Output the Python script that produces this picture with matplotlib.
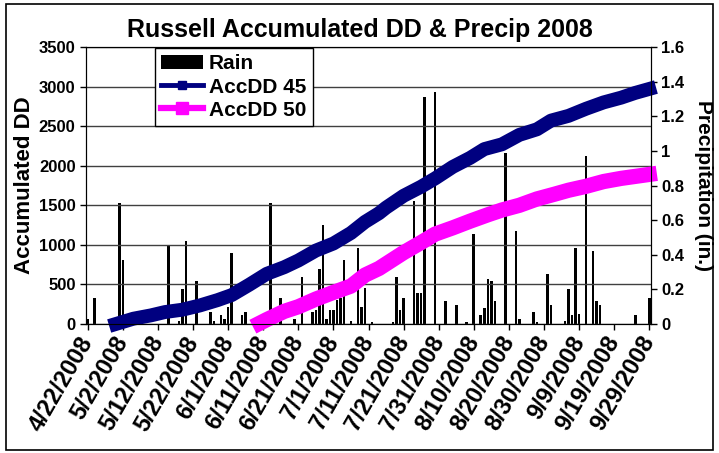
import numpy as np
import matplotlib
matplotlib.use('Agg')
from matplotlib import pyplot as plt
from matplotlib.lines import Line2D
from matplotlib.patches import Patch, Rectangle

plt.rcParams['font.family'] = ['Liberation Sans', 'DejaVu Sans']
plt.rcParams['font.weight'] = 'bold'

# days counted from 4/22/2008
tick_day = list(range(0, 161, 10))
tick_label = ['4/22/2008', '5/2/2008', '5/12/2008', '5/22/2008', '6/1/2008',
              '6/11/2008', '6/21/2008', '7/1/2008', '7/11/2008', '7/21/2008',
              '7/31/2008', '8/10/2008', '8/20/2008', '8/30/2008', '9/9/2008',
              '9/19/2008', '9/29/2008']

# daily rain (in.)
rain_day = [0, 2, 9, 10, 11, 23, 26, 27, 28, 31, 35, 36, 38, 39, 40, 41, 44, 45,
            52, 55, 59, 61, 64, 65, 66, 67, 68, 69, 70, 71, 72, 73, 75, 77, 78, 79,
            81, 87, 88, 89, 90, 93, 94, 95, 96, 99, 102, 105, 108, 110, 112, 113,
            114, 115, 116, 119, 122, 123, 127, 128, 131, 132, 136, 137, 138, 139,
            140, 142, 144, 145, 146, 156, 160]
rain_in = [0.03, 0.15, 0.70, 0.37, 0.05, 0.45, 0.02, 0.20, 0.48, 0.25, 0.07, 0.02,
           0.05, 0.03, 0.10, 0.41, 0.05, 0.07, 0.70, 0.15, 0.03, 0.27, 0.07, 0.08,
           0.32, 0.57, 0.03, 0.08, 0.08, 0.14, 0.15, 0.37, 0.02, 0.44, 0.10, 0.21,
           0.01, 0.01, 0.27, 0.08, 0.15, 0.71, 0.18, 0.18, 1.31, 1.34, 0.13, 0.11,
           0.01, 0.52, 0.05, 0.09, 0.26, 0.25, 0.13, 0.99, 0.54, 0.03, 0.07, 0.01,
           0.29, 0.11, 0.02, 0.20, 0.05, 0.44, 0.06, 0.97, 0.42, 0.13, 0.11, 0.05,
           0.15]

# accumulated degree days
dd45_day = [8, 13, 18, 22, 27, 32, 37, 41, 46, 51, 56, 60, 65, 70, 75, 79, 83, 85,
            90, 95, 99, 104, 109, 113, 118, 123, 128, 132, 137, 142, 147, 152, 156, 160]
dd45 = [0, 67, 109, 151, 181, 235, 302, 365, 496, 634, 718, 802, 928, 1017, 1150,
        1290, 1400, 1470, 1620, 1735, 1840, 1985, 2100, 2210, 2270, 2390, 2460,
        2570, 2630, 2720, 2800, 2860, 2920, 2970]

dd50_day = [49, 51, 56, 60, 65, 70, 75, 79, 83, 90, 95, 99, 104, 109, 114, 118,
            123, 128, 133, 137, 142, 147, 152, 156, 160]
dd50 = [10, 55, 160, 218, 315, 399, 479, 618, 702, 902, 1030, 1136, 1215, 1300,
        1380, 1440, 1500, 1580, 1640, 1690, 1740, 1800, 1840, 1865, 1890]

navy = '#000080'
pink = '#ff00ff'

fig = plt.figure(figsize=(7.19, 4.53), dpi=100)
ax = fig.add_axes([86 / 719, 1 - 324 / 453, 565 / 719, 277 / 453])
ax2 = ax.twinx()
ax.set_zorder(ax2.get_zorder() + 1)
ax.patch.set_visible(False)

# осадки на правой оси
ax2.bar(rain_day, rain_in, width=0.75, color='black')
ax2.set_ylim(0, 1.6)
ax2.set_yticks(np.arange(0, 1.61, 0.2))
ax2.set_yticklabels(['0', '0.2', '0.4', '0.6', '0.8', '1', '1.2', '1.4', '1.6'])
ax2.set_ylabel('Precipitation (in.)', fontsize=15, fontweight='bold',
               rotation=270, va='center', ha='center')
ax2.yaxis.set_label_coords(1.093, 0.5)

ax.plot(dd45_day, dd45, color=navy, lw=10, solid_capstyle='projecting',
        solid_joinstyle='round', clip_on=False)
ax.plot(dd50_day, dd50, color=pink, lw=11, solid_capstyle='projecting',
        solid_joinstyle='round', clip_on=False)
ax.set_ylim(0, 3500)
ax.set_xlim(-0.5, 160.5)
ax.set_yticks(range(0, 3501, 500))
ax.grid(axis='y', color='#404040', lw=1)
ax.set_axisbelow(True)
ax.set_xticks(tick_day)
ax.set_xticklabels(tick_label, rotation=60, ha='right', va='center',
                   rotation_mode='anchor')
ax.set_ylabel('Accumulated DD', fontsize=16, fontweight='bold', va='center', ha='center')
ax.yaxis.set_label_coords(-0.108, 0.5)

for a in (ax, ax2):
    a.tick_params(direction='out', length=4, width=1, labelsize=12, color='black')
    for s in a.spines.values():
        s.set_color('black')
ax.tick_params(axis='x', pad=6, labelsize=17)

fig.text(0.5, 1 - 30 / 453, 'Russell Accumulated DD & Precip 2008',
         ha='center', va='center', fontsize=18, fontweight='bold')

handles = [Patch(facecolor='black'),
           Line2D([], [], color=navy, lw=3.5, marker='s', ms=6),
           Line2D([], [], color=pink, lw=4.5, marker='s', ms=9)]
leg = ax.legend(handles, ['Rain', 'AccDD 45', 'AccDD 50'], loc='upper left',
                bbox_to_anchor=(0.122, 0.996), borderaxespad=0,
                frameon=True, fancybox=False, framealpha=1, edgecolor='black',
                handlelength=2.0, handletextpad=0.3, labelspacing=0.2,
                borderpad=0.3, prop={'weight': 'bold', 'size': 15})
leg.get_frame().set_linewidth(1)

fig.patches.append(Rectangle((0.008, 0.007), 0.984, 0.984, transform=fig.transFigure,
                             fill=False, edgecolor='black', lw=1.2))

fig.savefig('out.png', dpi=100)
